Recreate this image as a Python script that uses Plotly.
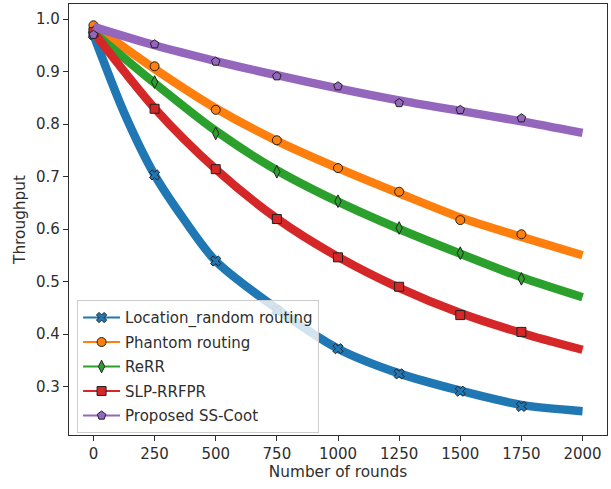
import plotly.graph_objects as go

# Marker samples (every 250 rounds)
marker_rounds = [0, 250, 500, 750, 1000, 1250, 1500, 1750]
names = ["Location_random routing", "Phantom routing", "ReRR", "SLP-RRFPR", "Proposed SS-Coot"]
location_random_pts = [0.970, 0.703, 0.539, 0.445, 0.372, 0.324, 0.291, 0.262]
phantom_pts = [0.988, 0.910, 0.827, 0.769, 0.716, 0.671, 0.617, 0.590]
rerr_pts = [0.975, 0.880, 0.782, 0.709, 0.653, 0.602, 0.554, 0.505]
slp_rrfpr_pts = [0.975, 0.829, 0.714, 0.619, 0.546, 0.490, 0.436, 0.404]
ss_coot_pts = [0.970, 0.952, 0.919, 0.891, 0.872, 0.840, 0.827, 0.811]

# Centre of each (noisy) throughput band
curve_rounds = [0, 250, 500, 750, 1000, 1250, 1500, 1750, 2000]
blue_curve_rounds = [0, 125, 250, 375, 500, 750, 1000, 1250, 1500, 1750, 2000]
location_random_curve = [0.970, 0.822, 0.703, 0.615, 0.539, 0.448, 0.372, 0.325, 0.292, 0.265, 0.253]
phantom_curve = [0.988, 0.905, 0.830, 0.768, 0.716, 0.668, 0.622, 0.585, 0.550]
rerr_curve = [0.975, 0.878, 0.787, 0.712, 0.652, 0.600, 0.553, 0.508, 0.470]
slp_rrfpr_curve = [0.975, 0.830, 0.714, 0.620, 0.547, 0.488, 0.440, 0.402, 0.370]
ss_coot_curve = [0.985, 0.950, 0.920, 0.893, 0.868, 0.845, 0.825, 0.805, 0.783]

x_ticks = [0, 250, 500, 750, 1000, 1250, 1500, 1750, 2000]
y_ticks = [0.3, 0.4, 0.5, 0.6, 0.7, 0.8, 0.9, 1.0]
y_ticktext = ["0.3", "0.4", "0.5", "0.6", "0.7", "0.8", "0.9", "1.0"]

curves = [
    (blue_curve_rounds, location_random_curve, location_random_pts),
    (curve_rounds, phantom_curve, phantom_pts),
    (curve_rounds, rerr_curve, rerr_pts),
    (curve_rounds, slp_rrfpr_curve, slp_rrfpr_pts),
    (curve_rounds, ss_coot_curve, ss_coot_pts),
]
colors = ["#1f77b4", "#ff7f0e", "#2ca02c", "#d62728", "#9467bd"]
symbols = ["x", "circle", "diamond-tall", "square", "pentagon"]

FONT = "DejaVu Sans"
TXT = "#2e2e2e"
EDGE = "#222222"

fig = go.Figure()
for i, (name, (cx, cy, pts), c, s) in enumerate(zip(names, curves, colors, symbols)):
    fig.add_trace(go.Scatter(
        x=cx, y=cy, mode="lines",
        line=dict(color=c, width=8.5, shape="spline", smoothing=0.8),
        showlegend=False, hoverinfo="skip"))
    fig.add_trace(go.Scatter(
        x=marker_rounds, y=pts, mode="markers",
        marker=dict(symbol=s, color=c, size=9, line=dict(color=EDGE, width=1)),
        showlegend=False))
    fig.add_trace(go.Scatter(
        x=[None], y=[None], mode="lines+markers", name=name, legendgroup=f"g{i}",
        line=dict(color=c, width=2),
        marker=dict(symbol=s, color=c, size=9, line=dict(color=EDGE, width=1))))

axis_common = dict(
    showline=True, linecolor=TXT, linewidth=1.2, mirror=True,
    ticks="outside", ticklen=5, tickwidth=1, tickcolor=TXT,
    showgrid=False, zeroline=False, automargin=False,
    tickfont=dict(family=FONT, size=15, color=TXT),
)

fig.update_layout(
    width=611, height=489,
    margin=dict(l=69, r=4, t=4, b=54),
    paper_bgcolor="white", plot_bgcolor="white",
    font=dict(family=FONT, size=15, color=TXT),
    xaxis=dict(range=[-100, 2100], tickvals=x_ticks,
               title=dict(text="Number of rounds", font=dict(family=FONT, size=15.3, color=TXT), standoff=4),
               **axis_common),
    yaxis=dict(range=[0.2076, 1.0286], tickvals=y_ticks, ticktext=y_ticktext,
               title=dict(text="Throughput", font=dict(family=FONT, size=15.3, color=TXT), standoff=6),
               **axis_common),
    legend=dict(x=0.015, y=0.004, xanchor="left", yanchor="bottom",
                bgcolor="rgba(255,255,255,0.8)", bordercolor="#cccccc", borderwidth=1,
                font=dict(family=FONT, size=15, color=TXT), itemwidth=37,
                tracegroupgap=2),
)

fig.write_html("out.html", config={"displayModeBar": False},
               post_script="document.body.style.margin='0';document.body.style.padding='0';")
